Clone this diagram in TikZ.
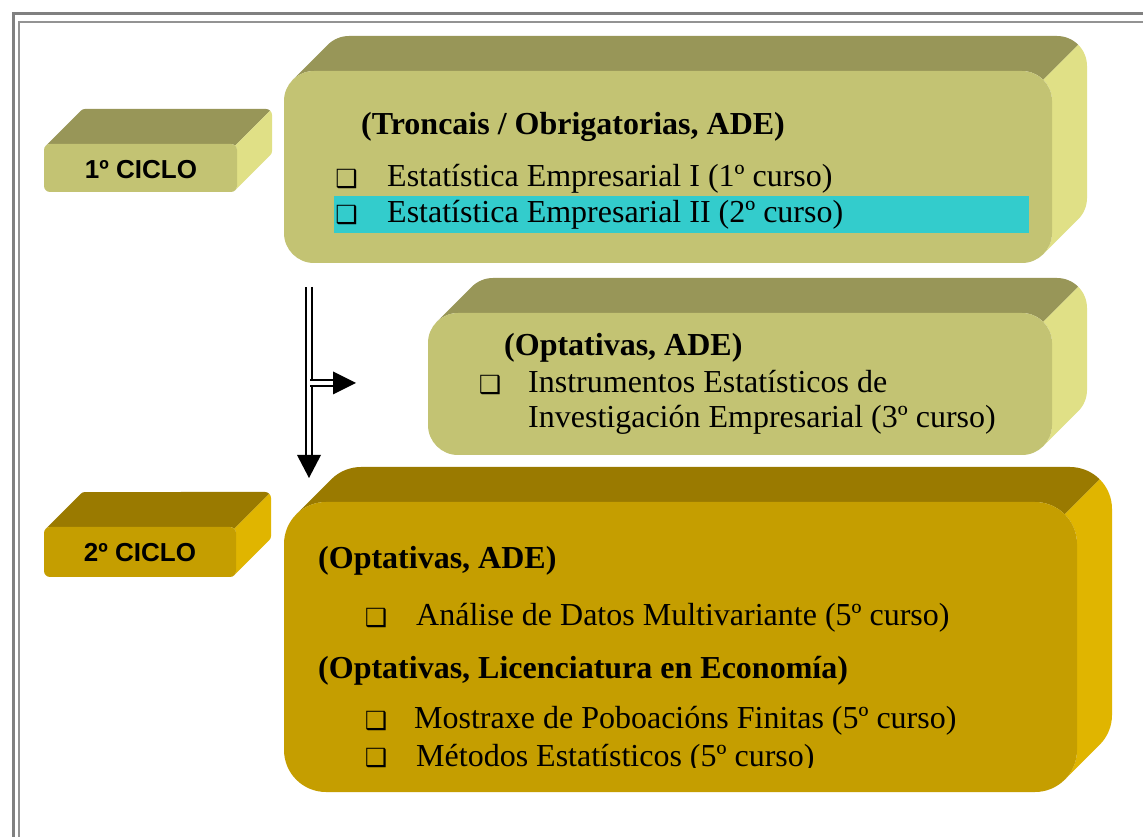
\documentclass[tikz,border=0pt]{standalone}
\usepackage{fontspec}
\setmainfont{Liberation Serif}
\newfontfamily\arialfont{Liberation Sans}
\newfontfamily\marcafont{DejaVu Sans}
\usepackage{tikz}
\definecolor{oliva}{RGB}{195,195,115}
\definecolor{olivaescura}{RGB}{152,150,88}
\definecolor{olivaclara}{RGB}{224,224,134}
\definecolor{ouro}{RGB}{197,158,0}
\definecolor{ouroescuro}{RGB}{154,122,0}
\definecolor{ouroclaro}{RGB}{224,181,0}
\definecolor{cian}{RGB}{51,204,204}
\definecolor{marco}{RGB}{128,128,128}

\begin{document}
\begin{tikzpicture}[x=1pt,y=1pt,
  texto/.style={anchor=base west,font=\fontsize{32}{38}\selectfont},
  titulo/.style={anchor=base west,font=\fontsize{32}{38}\selectfont\bfseries},
  ciclo/.style={font=\arialfont\bfseries\fontsize{26}{30}\selectfont},
  marca/.style={anchor=base,font=\marcafont\fontsize{25}{25}\selectfont},
  dobre/.style={double=white,double distance=4pt,line width=2pt}]
\tikzstyle{every node}+=[inner sep=0pt]
\useasboundingbox (0,0) rectangle (1143,836);
\fill [white] (0,0) rectangle (1143,836);
\draw [marco,line width=3pt] (13,-5) -- (13,822) -- (1150,822);
\draw [marco!85,line width=2pt] (18.5,-5) -- (18.5,814) -- (1150,814);
\fill [olivaescura] (45.76,690.24) -- ++(35,35) arc (135:90:6) -- (266,727) arc (90:45:6) -- ++(-35,-35) arc (45:90:6) -- (50,692) arc (90:135:6) -- cycle;
\fill [olivaclara] (235.24,690.24) -- ++(35,35) arc (45:0:6) -- (272,685) arc (0:-45:6) -- ++(-35,-35) arc (-45:0:6) -- (237,686) arc (0:45:6) -- cycle;
\fill [oliva,rounded corners=6] (44,644) rectangle (237,692);
\draw (141,666) node [ciclo] (ciclo1) {1º CICLO};
\fill [olivaescura] (292.79,756.21) -- ++(35,35) arc (135:90:30) -- (1057,800) arc (90:45:30) -- ++(-35,-35) arc (45:90:30) -- (314,765) arc (90:135:30) -- cycle;
\fill [olivaclara] (1043.21,756.21) -- ++(35,35) arc (45:0:30) -- (1087,638) arc (0:-45:30) -- ++(-35,-35) arc (-45:0:30) -- (1052,735) arc (0:45:30) -- cycle;
\fill [oliva,rounded corners=30] (284,573) rectangle (1052,765);
\fill [cian] (334,603) rectangle (1029,640);
\draw (361,701) node [titulo] (troncais) {(Troncais / Obrigatorias, ADE)};
\draw (346.5,648) node [marca] (m1) {❑};
\draw (387,649) node [texto] (est1) {Estatística Empresarial I (1º curso)};
\draw (346.5,612) node [marca] (m2) {❑};
\draw (387,613) node [texto] (est2) {Estatística Empresarial II (2º curso)};
\fill [olivaescura] (436.79,514.21) -- ++(35,35) arc (135:90:30) -- (1057,558) arc (90:45:30) -- ++(-35,-35) arc (45:90:30) -- (458,523) arc (90:135:30) -- cycle;
\fill [olivaclara] (1043.21,514.21) -- ++(35,35) arc (45:0:30) -- (1087,446) arc (0:-45:30) -- ++(-35,-35) arc (-45:0:30) -- (1052,493) arc (0:45:30) -- cycle;
\fill [oliva,rounded corners=30] (428,381) rectangle (1052,523);
\draw (504,480) node [titulo] (optA) {(Optativas, ADE)};
\draw (490,442) node [marca] (m3) {❑};
\draw (528,443) node [texto] (inst1) {Instrumentos Estatísticos de};
\draw (528,408) node [texto] (inst2) {Investigación Empresarial (3º curso)};
\fill [ouroescuro] (45.76,307.24) -- ++(35,35) arc (135:90:6) -- (265,344) arc (90:45:6) -- ++(-35,-35) arc (45:90:6) -- (50,309) arc (90:135:6) -- cycle;
\fill [ouroclaro] (234.24,307.24) -- ++(35,35) arc (45:0:6) -- (271,300) arc (0:-45:6) -- ++(-35,-35) arc (-45:0:6) -- (236,303) arc (0:45:6) -- cycle;
\fill [ouro,rounded corners=6] (44,259) rectangle (236,309);
\draw (140,283) node [ciclo] (ciclo2) {2º CICLO};
\fill [ouroescuro] (296.30,321.70) -- ++(35,35) arc (135:90:42) -- (1070,369) arc (90:45:42) -- ++(-35,-35) arc (45:90:42) -- (326,334) arc (90:135:42) -- cycle;
\fill [ouroclaro] (1064.70,321.70) -- ++(35,35) arc (45:0:42) -- (1112,121) arc (0:-45:42) -- ++(-35,-35) arc (-45:0:42) -- (1077,292) arc (0:45:42) -- cycle;
\fill [ouro,rounded corners=42] (284,44) rectangle (1077,334);
\draw (318,267) node [titulo] (optB) {(Optativas, ADE)};
\draw (376,210) node [marca] (m4) {❑};
\draw (416,211) node [texto] (analise) {Análise de Datos Multivariante (5º curso)};
\draw (318,158) node [titulo] (optC) {(Optativas, Licenciatura en Economía)};
\draw (376,107) node [marca] (m5) {❑};
\draw (414,108) node [texto] (mostraxe) {Mostraxe de Poboacións Finitas (5º curso)};
\draw (376,70) node [marca] (m6) {❑};
\begin{scope}
\clip (284,69) rectangle (1077,334);
\draw (416,70) node [texto] (metodos) {Métodos Estatísticos (5º curso)};
\end{scope}
\coordinate (baixoA) at (309,549);
\coordinate (baixoB) at (309,381);
\coordinate (baixoP) at (309,358);
\draw [dobre] (baixoA) -- (baixoB);
\fill (baixoP) -- ([xshift=-12]baixoB) -- ([xshift=12]baixoB) -- cycle;
\coordinate (dereitaA) at (310,453);
\coordinate (dereitaB) at (333,453);
\coordinate (dereitaP) at (356,453);
\draw [dobre] (dereitaA) -- (dereitaB);
\fill (dereitaP) -- ([yshift=11.5]dereitaB) -- ([yshift=-11.5]dereitaB) -- cycle;
\end{tikzpicture}
\end{document}
